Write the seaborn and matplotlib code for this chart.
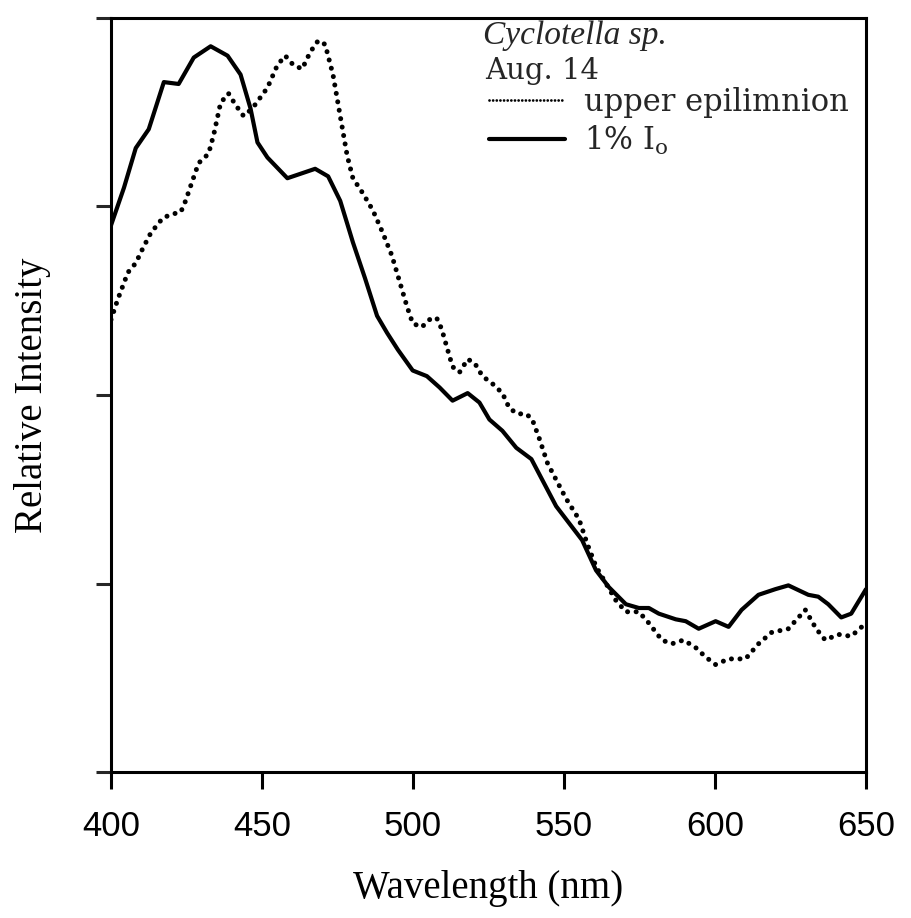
import matplotlib
matplotlib.use("Agg")
import matplotlib.pyplot as plt
import seaborn as sns
import pandas as pd
from matplotlib.lines import Line2D

sns.set_theme(style="ticks")
plt.rcParams["font.family"] = ["Liberation Serif", "DejaVu Serif"]

# ---- data ----
wl_upper = [400.0, 402.3, 405.6, 408.2, 410.6, 413.2, 417.2, 420.4, 423.1, 424.7, 426.4, 429.0,
            432.3, 434.0, 436.3, 438.9, 441.2, 443.9, 446.8, 451.8, 455.1, 457.7, 460.4, 463.3,
            466.0, 468.6, 470.9, 473.5, 475.9, 478.2, 480.1, 483.4, 486.7, 490.0, 493.0, 495.6,
            498.0, 499.9, 502.9, 505.5, 507.8, 509.5, 511.1, 513.1, 515.4, 518.1, 520.4, 523.0,
            526.3, 529.6, 531.9, 534.6, 537.5, 539.5, 541.8, 544.5, 546.1, 550.7, 555.0, 557.7,
            560.6, 563.9, 567.2, 570.5, 574.8, 578.1, 582.4, 585.7, 589.6, 593.6, 596.9, 600.2,
            604.5, 610.1, 614.4, 618.7, 624.3, 629.9, 633.5, 636.5, 640.8, 645.1, 650.0]
int_upper = [2.40, 2.51, 2.65, 2.70, 2.78, 2.86, 2.94, 2.96, 2.97, 3.03, 3.11, 3.23,
             3.28, 3.38, 3.55, 3.60, 3.54, 3.48, 3.52, 3.63, 3.75, 3.80, 3.75, 3.73,
             3.82, 3.88, 3.86, 3.70, 3.48, 3.27, 3.15, 3.07, 2.98, 2.86, 2.74, 2.60,
             2.47, 2.38, 2.36, 2.40, 2.41, 2.35, 2.26, 2.15, 2.12, 2.19, 2.17, 2.10,
             2.06, 2.01, 1.93, 1.90, 1.90, 1.87, 1.77, 1.64, 1.59, 1.45, 1.34, 1.21,
             1.09, 1.00, 0.91, 0.85, 0.85, 0.79, 0.70, 0.68, 0.70, 0.66, 0.61, 0.57,
             0.60, 0.60, 0.68, 0.74, 0.76, 0.86, 0.76, 0.70, 0.73, 0.72, 0.79]

wl_1pct = [400.0, 404.3, 408.2, 412.5, 417.5, 422.4, 427.4, 433.0, 438.6, 442.9, 446.2, 448.5,
           451.8, 458.4, 467.6, 471.9, 475.9, 478.2, 480.1, 484.1, 488.1, 491.4, 495.0, 499.9,
           504.6, 508.8, 513.1, 518.1, 522.0, 525.3, 529.6, 534.2, 539.2, 542.8, 547.4, 551.7,
           556.0, 560.6, 564.9, 570.5, 574.8, 578.1, 581.4, 587.0, 590.3, 594.6, 600.2, 604.5,
           608.8, 614.4, 620.0, 624.3, 630.9, 634.2, 637.5, 641.8, 645.1, 650.0]
int_1pct = [2.90, 3.10, 3.31, 3.41, 3.66, 3.65, 3.79, 3.85, 3.80, 3.70, 3.52, 3.34,
            3.26, 3.15, 3.20, 3.16, 3.03, 2.91, 2.81, 2.62, 2.42, 2.33, 2.24, 2.13,
            2.10, 2.04, 1.97, 2.01, 1.96, 1.87, 1.81, 1.72, 1.66, 1.55, 1.41, 1.32,
            1.23, 1.07, 0.98, 0.89, 0.87, 0.87, 0.84, 0.81, 0.80, 0.76, 0.80, 0.77,
            0.86, 0.94, 0.97, 0.99, 0.94, 0.93, 0.89, 0.82, 0.84, 0.97]

x_ticks = [400, 450, 500, 550, 600, 650]
y_ticks = [0, 1, 2, 3, 4]
series_labels = ["upper epilimnion", "1% I$_{\\mathregular{o}}$"]
title_lines = ["Cyclotella sp.", "Aug. 14"]

df_upper = pd.DataFrame({"wl": wl_upper, "val": int_upper})
df_1pct = pd.DataFrame({"wl": wl_1pct, "val": int_1pct})

W, H = 911, 918
fig = plt.figure(figsize=(W / 100, H / 100), dpi=100)
ax = fig.add_axes([111 / W, 1 - 772 / H, (866 - 111) / W, (772 - 18) / H])

sns.lineplot(data=df_upper, x="wl", y="val", ax=ax, color="black", linewidth=3.6,
             estimator=None, sort=False)
dotted = ax.lines[-1]
dotted.set_linestyle((0, (0.01, 1.7)))
dotted.set_dash_capstyle("round")

sns.lineplot(data=df_1pct, x="wl", y="val", ax=ax, color="black", linewidth=3.0,
             estimator=None, sort=False)
ax.lines[-1].set_solid_joinstyle("round")
ax.lines[-1].set_solid_capstyle("round")

ax.set_xlim(400, 650)
ax.set_ylim(0, 4)
ax.set_xticks(x_ticks)
ax.set_yticks(y_ticks)
ax.tick_params(axis="x", direction="out", length=12, width=2.2, pad=15, labelsize=25,
               colors="black")
ax.tick_params(axis="y", direction="out", length=11, width=2.2, labelleft=False)
for lab in ax.get_xticklabels():
    lab.set_fontfamily(["Liberation Sans", "DejaVu Sans"])
for sp in ax.spines.values():
    sp.set_linewidth(2.2)
    sp.set_color("black")
    sp.set_visible(True)
ax.set_facecolor("white")
ax.grid(False)

ax.set_xlabel("Wavelength (nm)", fontsize=28, labelpad=20, color="black")
ax.set_ylabel("Relative Intensity", fontsize=28, labelpad=32, color="black")

# text block / legend
fig.text(483 / W, 1 - 44 / H, title_lines[0], fontsize=24, style="italic",
         family=["Liberation Serif"], va="baseline", ha="left")
fig.text(485 / W, 1 - 79 / H, title_lines[1], fontsize=21,
         family=["DejaVu Serif"], va="baseline", ha="left")

handles = [Line2D([], [], color="black", lw=2.0, linestyle=(0, (0.01, 1.3)),
                  dash_capstyle="round"),
           Line2D([], [], color="black", lw=3.0)]
leg = ax.legend(handles, series_labels, loc="upper left",
                bbox_to_anchor=(489 / W, 1 - 87 / H), bbox_transform=fig.transFigure,
                frameon=False, borderpad=0, borderaxespad=0, handlelength=2.5,
                handletextpad=0.6, labelspacing=0.2,
                prop={"family": "DejaVu Serif", "size": 22})

fig.savefig("out.png", dpi=100, facecolor="white")
